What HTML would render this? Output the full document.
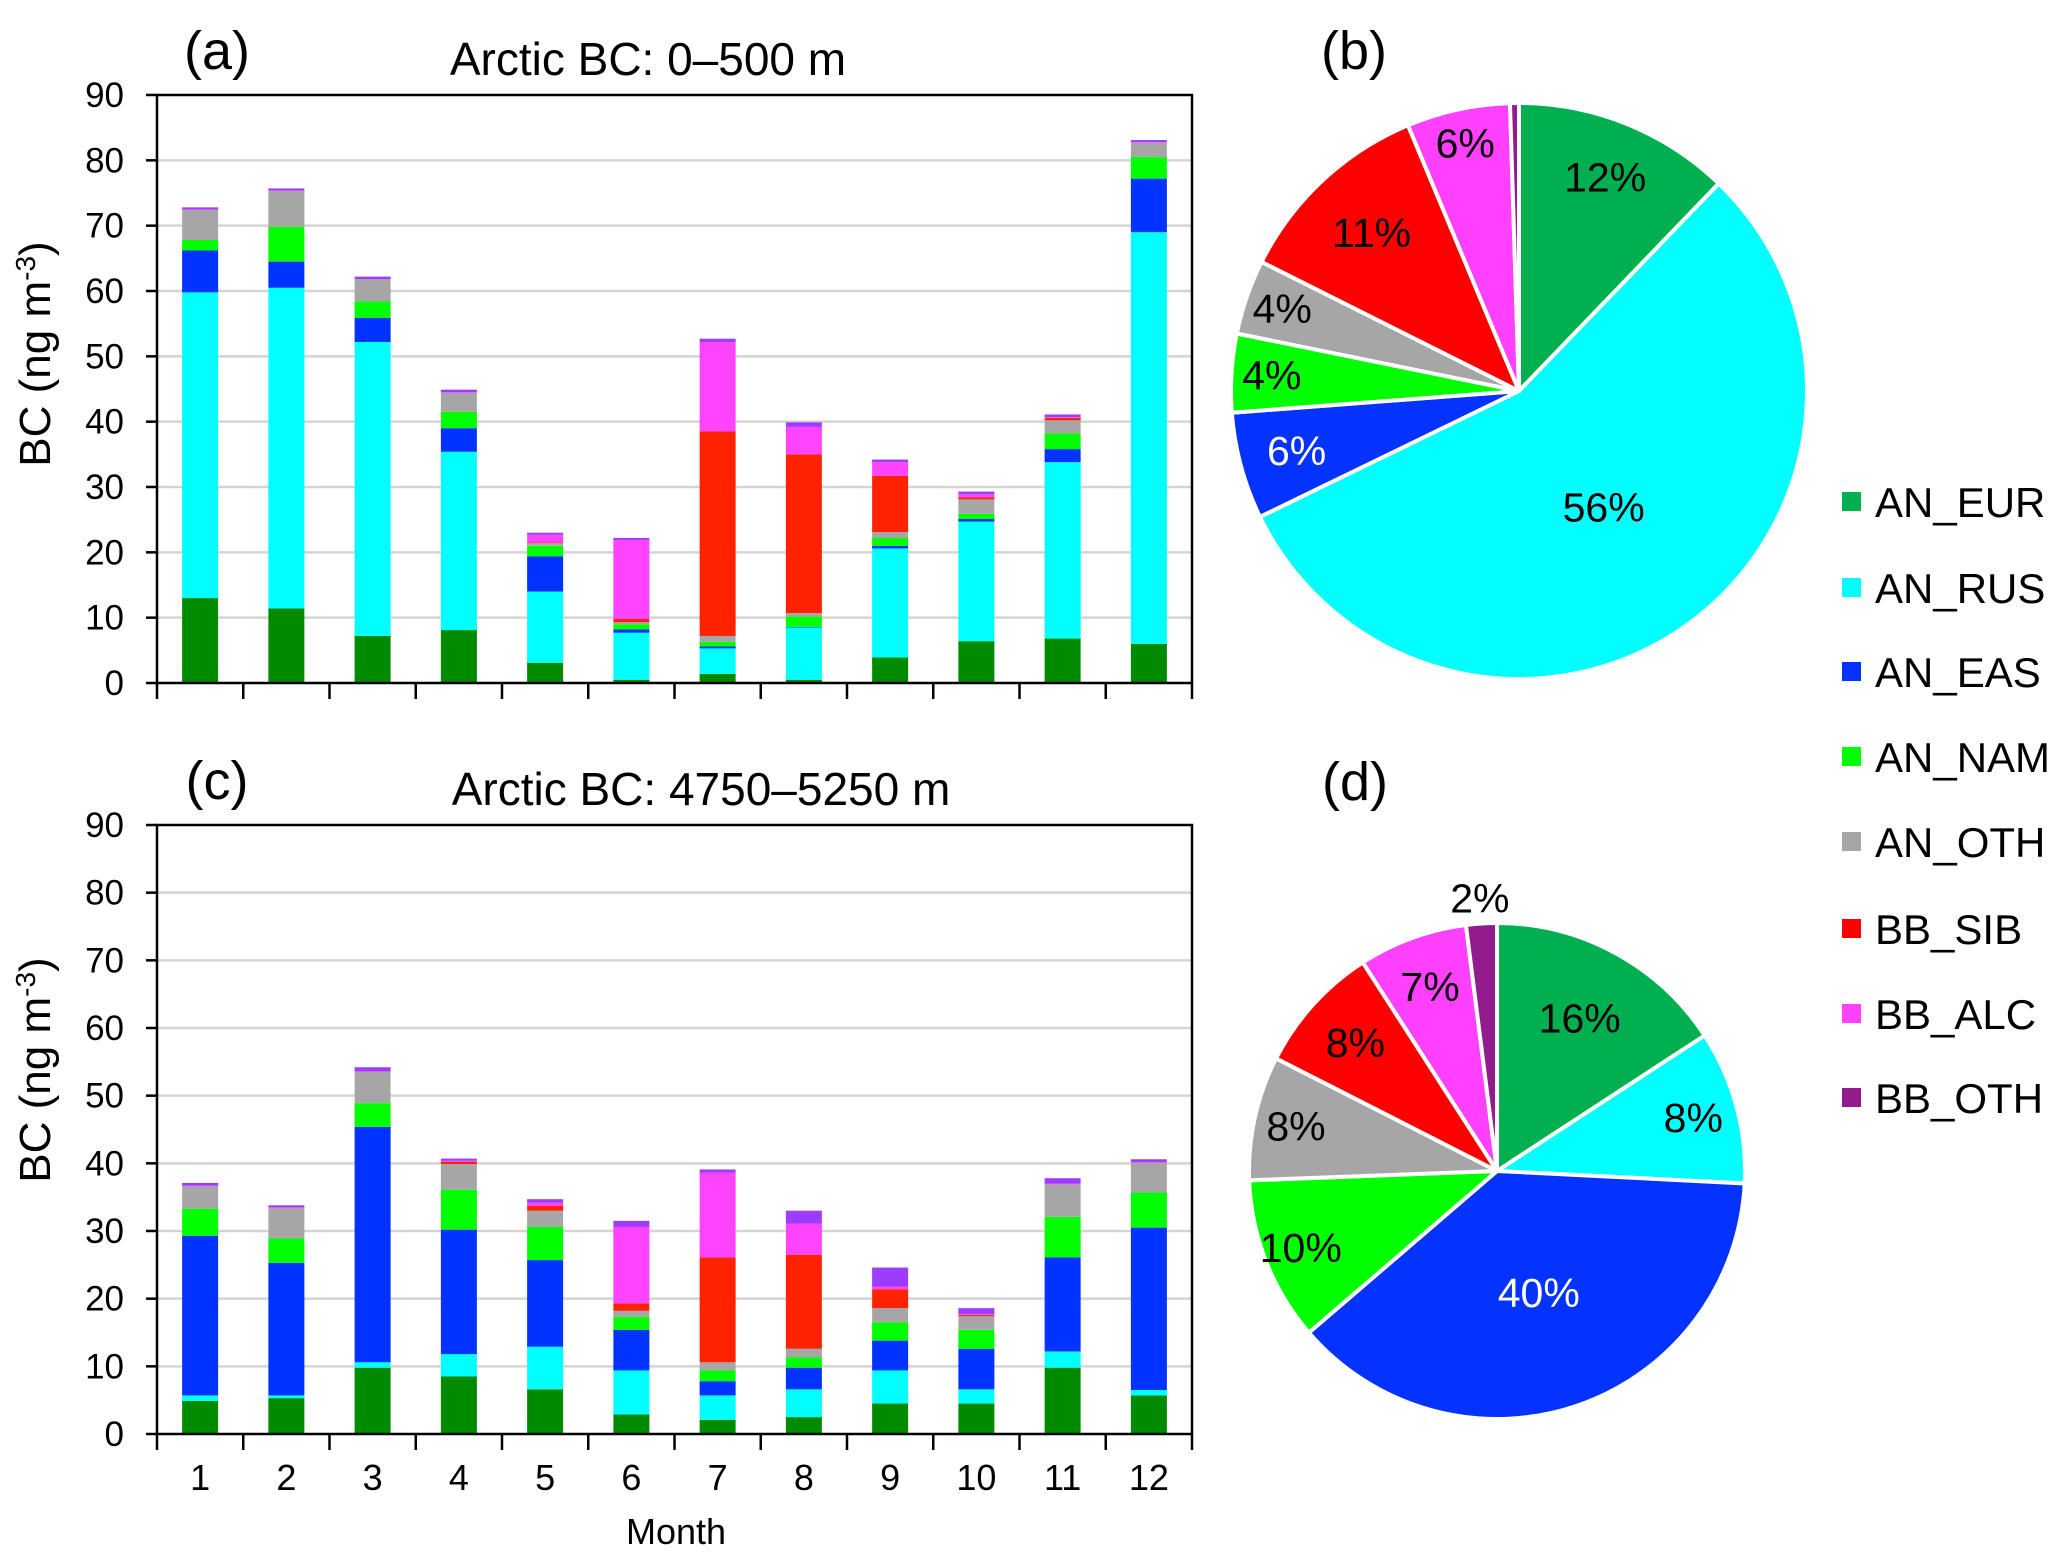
<!DOCTYPE html>
<html><head><meta charset="utf-8"><style>
html,body{margin:0;padding:0;background:#fff;}
svg{display:block;font-family:"Liberation Sans",Arial,sans-serif;}
</style></head><body>
<svg id="fig" width="2067" height="1563" viewBox="0 0 2067 1563" xmlns="http://www.w3.org/2000/svg"></svg>
<script>
const months = ["1","2","3","4","5","6","7","8","9","10","11","12"];
const seriesNames = ["AN_EUR","AN_RUS","AN_EAS","AN_NAM","AN_OTH","BB_SIB","BB_ALC","BB_OTH"];
const yTicks = [0,10,20,30,40,50,60,70,80,90];
// Panel (a) 0-500 m, per-series monthly values (ng m-3)
const a_EUR = [13,11.4,7.2,8.1,3.1,0.5,1.4,0.5,3.9,6.4,6.8,6];
const a_RUS = [46.8,49.1,45,27.3,10.9,7.2,3.9,8,16.7,18.3,27,63];
const a_EAS = [6.4,4,3.7,3.6,5.4,0.5,0.3,0.1,0.4,0.4,2,8.2];
const a_NAM = [1.6,5.3,2.5,2.5,1.6,0.8,0.7,1.6,1.2,0.8,2.4,3.3];
const a_OTH = [4.6,5.5,3.4,2.9,0.4,0.3,0.9,0.5,0.9,2.2,2,2.2];
const a_SIB = [0,0,0,0,0.1,0.5,31.3,24.3,8.6,0.3,0.4,0];
const a_ALC = [0.1,0.1,0,0.1,1.2,12.1,13.7,4.2,2.1,0.5,0.1,0.1];
const a_BBO = [0.3,0.3,0.4,0.4,0.3,0.3,0.5,0.7,0.4,0.4,0.4,0.3];
// Panel (c) 4750-5250 m
const c_EUR = [4.9,5.3,9.8,8.5,6.6,2.9,2.1,2.5,4.5,4.5,9.8,5.7];
const c_RUS = [0.8,0.4,0.8,3.3,6.3,6.5,3.6,4.1,4.9,2.1,2.4,0.8];
const c_EAS = [23.6,19.6,34.8,18.4,12.8,6,2.1,3.2,4.4,6,13.9,24];
const c_NAM = [4,3.6,3.5,5.9,4.9,1.9,1.6,1.5,2.7,2.8,6,5.2];
const c_OTH = [3.3,4.5,4.6,3.8,2.4,0.9,1.2,1.3,2.1,2,4.8,4.4];
const c_SIB = [0,0,0,0.3,0.7,1.1,15.5,13.9,2.8,0.2,0,0];
const c_ALC = [0.1,0.1,0.1,0.2,0.5,11.3,12.5,4.6,0.4,0.1,0.1,0.1];
const c_BBO = [0.4,0.3,0.6,0.3,0.5,0.9,0.5,1.9,2.8,0.9,0.8,0.4];
// Pie shares (%)
const b_shares = [12.2,55.6,6.0,4.4,4.2,11.3,5.8,0.5];
const b_labels = ["12%","56%","6%","4%","4%","11%","6%",""];
const d_shares = [15.8,10.0,37.9,10.7,8.1,8.4,7.1,2.0];
const d_labels = ["16%","8%","40%","10%","8%","8%","7%","2%"];

const NS="http://www.w3.org/2000/svg";
const svg=document.getElementById('fig');
function mk(tag,attrs,parent){const e=document.createElementNS(NS,tag);for(const k in attrs)e.setAttribute(k,attrs[k]);(parent||svg).appendChild(e);return e;}
function txt(s,attrs,parent){const e=mk('text',attrs,parent);e.textContent=s;return e;}

const barColors=["#008a00","#00ffff","#0033ff","#00ff00","#a6a6a6","#ff2200","#ff44ff","#9b3cff"];
const pieColors=["#00b050","#00ffff","#0432ff","#00ff00","#a6a6a6","#ff0000","#ff40ff","#921c8c"];

function barPanel(key,top,bottom,series,title,letter,showMonths,ytCenter,titleX){
  const L=157,R=1192;
  const g=mk('g',{});
  
  
  const y=v=>bottom-(v/90)*(bottom-top);
  const cw=(R-L)/months.length;
  const x=i=>L+cw*(i+0.5);
  yTicks.forEach(t=>{
    if(t>0&&t<90){const gl=mk('line',{x1:L,x2:R,y1:y(t),y2:y(t),stroke:'#d4d4d4','stroke-width':2.5},g);
      }
    mk('line',{x1:L-11,x2:L,y1:y(t),y2:y(t),stroke:'#000','stroke-width':2.5},g);
    const tl=txt(String(t),{x:124,y:y(t)+12,'text-anchor':'end','font-size':35},g);
    
  });
  months.forEach((m,i)=>{
    let acc=0;
    series.forEach((arr,si)=>{
      const v=arr[i]; if(v<=0)return;
      const r=mk('rect',{x:x(i)-18,width:36,y:y(acc+v),height:y(acc)-y(acc+v),fill:barColors[si]},g);
      
      
      acc+=v;
    });
  });
  for(let i=0;i<=months.length;i++){mk('line',{x1:L+cw*i,x2:L+cw*i,y1:bottom,y2:bottom+16,stroke:'#000','stroke-width':2.5},g);}
  const fr=mk('rect',{x:L,y:top,width:R-L,height:bottom-top,fill:'none',stroke:'#000','stroke-width':2.5},g);
  
  if(showMonths){months.forEach((m,i)=>{const t=txt(m,{x:x(i),y:bottom+56,'text-anchor':'middle','font-size':36},g);
    });}
  const tt=txt(title,{x:titleX,y:top-20,'text-anchor':'middle','font-size':46},g);
  
  const pl=txt(letter,{x:217,y:top-26,'text-anchor':'middle','font-size':54},g);
  
  const yt=mk('text',{x:0,y:0,'text-anchor':'middle','font-size':44,transform:`translate(50,${ytCenter}) rotate(-90)`},g);
  
  yt.appendChild(document.createTextNode('BC (ng m'));
  const sp=document.createElementNS(NS,'tspan');sp.setAttribute('font-size',28);sp.setAttribute('dy',-15);sp.textContent='-3';yt.appendChild(sp);
  const sp2=document.createElementNS(NS,'tspan');sp2.setAttribute('dy',15);sp2.textContent=')';yt.appendChild(sp2);
}
barPanel('a',95,683,[a_EUR,a_RUS,a_EAS,a_NAM,a_OTH,a_SIB,a_ALC,a_BBO],'Arctic BC: 0\u2013500 m','(a)',false,354,648);
barPanel('c',825,1434,[c_EUR,c_RUS,c_EAS,c_NAM,c_OTH,c_SIB,c_ALC,c_BBO],'Arctic BC: 4750\u20135250 m','(c)',true,1070,701);
const mt=txt('Month',{x:676,y:1544,'text-anchor':'middle','font-size':36});


function pie(key,cx,cy,r,shares,labels,lf){
  const g=mk('g',{});
  
  
  const tot=shares.reduce((a,b)=>a+b,0);
  let a0=0;
  shares.forEach((s,i)=>{
    const a1=a0+s/tot*2*Math.PI;
    const p=(a)=>[cx+r*Math.sin(a),cy-r*Math.cos(a)];
    const [x0,y0]=p(a0),[x1,y1]=p(a1);
    const large=(a1-a0)>Math.PI?1:0;
    const path=mk('path',{d:`M${cx},${cy}L${x0},${y0}A${r},${r} 0 ${large} 1 ${x1},${y1}Z`,fill:pieColors[i],stroke:'#fff','stroke-width':4,'stroke-linejoin':'round'},g);
    
    
    if(labels[i]){
      const am=(a0+a1)/2, rr=r*lf[i];
      const t=txt(labels[i],{x:cx+rr*Math.sin(am),y:cy-rr*Math.cos(am)+14,'text-anchor':'middle','font-size':41,fill:i===2?'#fff':'#000'},g);
      
    }
    a0=a1;
  });
}
pie('b',1519,391,288,b_shares,b_labels,[0.8,0.5,0.8,0.86,0.87,0.75,0.88,0]);
pie('d',1497,1171,248,d_shares,d_labels,[0.7,0.82,0.52,0.85,0.83,0.77,0.79,1.1]);
const pb=txt('(b)',{x:1354,y:69,'text-anchor':'middle','font-size':54});

const pd=txt('(d)',{x:1355,y:800,'text-anchor':'middle','font-size':54});


const legY=[502,588,672,757,842,929,1014,1098];
seriesNames.forEach((n,i)=>{
  const g=mk('g',{});
  
  
  mk('rect',{x:1842,y:legY[i]-10,width:19,height:19,fill:pieColors[i]},g);
  txt(n,{x:1875,y:legY[i]+15,'font-size':42},g);
});
</script>
</body></html>
